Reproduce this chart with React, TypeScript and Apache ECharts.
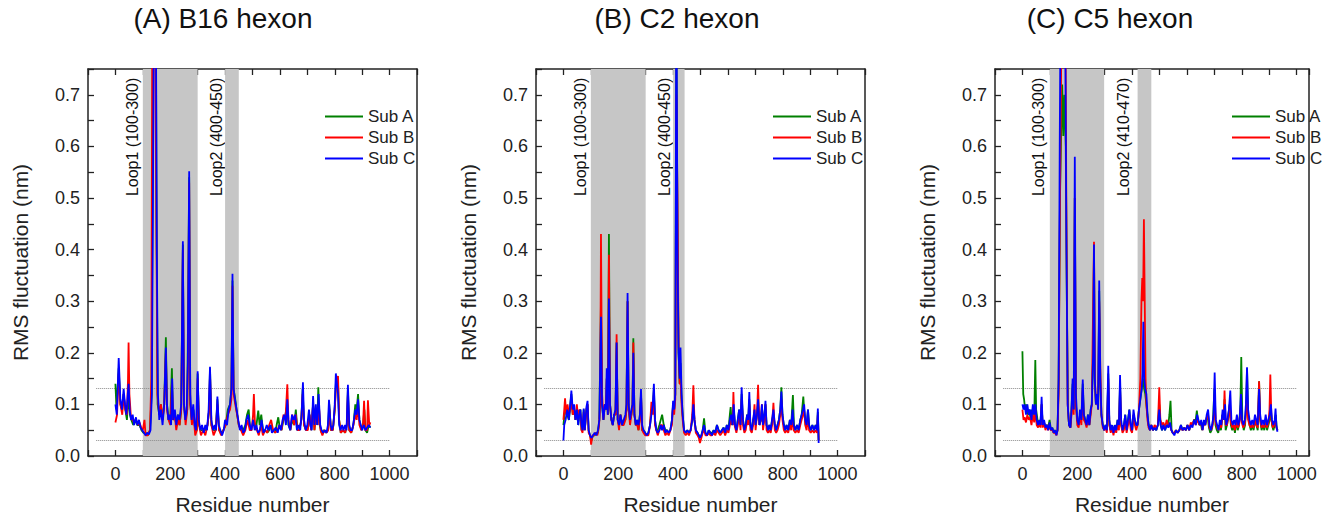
import React, { useEffect, useRef } from "react";
import * as echarts from "echarts";

type P = [number, number];

const subNames = ["Sub A", "Sub B", "Sub C"];
const subColors = ["#008000", "#ff0000", "#0000ff"];
const titles = ["(A) B16 hexon", "(B) C2 hexon", "(C) C5 hexon"];
const loopLabels = [
  ["Loop1 (100-300)", "Loop2 (400-450)"],
  ["Loop1 (100-300)", "Loop2 (400-450)"],
  ["Loop1 (100-300)", "Loop2 (410-470)"],
];
const loopShades: P[][] = [
  [[100, 300], [400, 450]],
  [[100, 300], [400, 442]],
  [[100, 298], [420, 470]],
];
const loopLabelX = [[61, 370], [64, 370], [60, 367]];
const xMaxes = [1100, 1100, 1045];
const xTicks = [0, 200, 400, 600, 800, 1000];
const yTicks = [0, 0.1, 0.2, 0.3, 0.4, 0.5, 0.6, 0.7];
const refLines = [0.132, 0.031];

const b16A: P[] = [[0,0.14],[4,0.09],[12,0.17],[18,0.1],[25,0.09],[30,0.12],[36,0.09],[42,0.07],[48,0.12],[53,0.08],[58,0.07],[65,0.06],[72,0.07],[80,0.06],[88,0.06],[95,0.05],[102,0.045],[110,0.045],[118,0.04],[126,0.05],[132,0.12],[137,0.7],[141,0.95],[147,0.95],[150,0.45],[154,0.1],[160,0.08],[166,0.1],[172,0.07],[178,0.1],[184,0.23],[188,0.1],[194,0.07],[200,0.07],[206,0.17],[210,0.07],[216,0.08],[222,0.06],[228,0.08],[234,0.06],[240,0.09],[246,0.41],[250,0.1],[256,0.07],[262,0.09],[269,0.54],[273,0.1],[279,0.07],[285,0.09],[291,0.05],[297,0.05],[300,0.16],[305,0.06],[312,0.05],[320,0.05],[328,0.05],[336,0.06],[342,0.09],[345,0.17],[350,0.06],[358,0.05],[366,0.05],[372,0.11],[378,0.05],[386,0.045],[394,0.05],[402,0.06],[410,0.09],[418,0.1],[423,0.13],[427,0.34],[431,0.13],[437,0.11],[444,0.08],[450,0.06],[458,0.05],[466,0.05],[474,0.06],[480,0.08],[486,0.09],[492,0.05],[500,0.06],[506,0.07],[512,0.05],[521,0.088],[526,0.06],[532,0.08],[538,0.05],[546,0.05],[554,0.045],[561,0.05],[568,0.06],[575,0.05],[583,0.045],[588,0.06],[594,0.075],[598,0.06],[606,0.05],[613,0.07],[620,0.08],[627,0.1],[631,0.06],[638,0.05],[645,0.07],[652,0.06],[658,0.09],[664,0.05],[671,0.05],[678,0.07],[683,0.13],[688,0.06],[695,0.05],[702,0.06],[708,0.08],[714,0.05],[721,0.1],[726,0.05],[732,0.09],[736,0.06],[740,0.133],[745,0.06],[752,0.045],[760,0.05],[768,0.045],[775,0.05],[780,0.1],[786,0.05],[793,0.05],[800,0.09],[805,0.15],[812,0.14],[816,0.07],[822,0.045],[830,0.05],[838,0.045],[844,0.06],[848,0.13],[853,0.05],[860,0.045],[868,0.06],[875,0.1],[880,0.09],[885,0.12],[890,0.07],[897,0.05],[903,0.06],[908,0.09],[912,0.05],[918,0.045],[924,0.06],[930,0.055]];
const b16B: P[] = [[0,0.065],[6,0.08],[12,0.16],[18,0.1],[25,0.08],[30,0.12],[36,0.09],[42,0.08],[46,0.15],[48,0.22],[51,0.12],[56,0.08],[62,0.07],[68,0.065],[75,0.07],[82,0.06],[88,0.065],[94,0.055],[100,0.05],[106,0.07],[110,0.04],[118,0.04],[126,0.05],[131,0.15],[135,0.95],[143,0.95],[149,0.5],[153,0.12],[160,0.08],[166,0.1],[172,0.07],[178,0.1],[184,0.2],[188,0.09],[194,0.07],[200,0.06],[206,0.14],[210,0.07],[216,0.08],[222,0.05],[228,0.07],[234,0.06],[240,0.09],[246,0.4],[250,0.1],[256,0.06],[262,0.09],[265,0.2],[269,0.53],[273,0.1],[279,0.06],[285,0.08],[291,0.04],[297,0.05],[300,0.15],[305,0.06],[312,0.04],[320,0.05],[328,0.04],[336,0.06],[342,0.09],[345,0.16],[350,0.06],[358,0.04],[366,0.05],[372,0.1],[378,0.05],[386,0.04],[394,0.05],[402,0.06],[410,0.08],[418,0.09],[423,0.11],[427,0.33],[431,0.12],[437,0.1],[444,0.08],[450,0.06],[458,0.05],[466,0.04],[474,0.05],[482,0.07],[490,0.05],[497,0.05],[502,0.08],[505,0.12],[509,0.06],[516,0.05],[523,0.04],[531,0.06],[538,0.04],[546,0.05],[554,0.045],[561,0.06],[568,0.07],[575,0.05],[583,0.045],[591,0.05],[598,0.06],[606,0.05],[613,0.08],[620,0.07],[627,0.139],[631,0.07],[638,0.05],[645,0.08],[652,0.06],[658,0.08],[664,0.05],[671,0.05],[678,0.07],[683,0.12],[688,0.06],[695,0.05],[702,0.05],[708,0.08],[714,0.05],[721,0.1],[726,0.05],[732,0.09],[738,0.06],[742,0.1],[748,0.05],[755,0.04],[762,0.05],[770,0.045],[776,0.05],[781,0.09],[786,0.05],[793,0.05],[800,0.09],[805,0.14],[812,0.155],[816,0.07],[822,0.045],[830,0.05],[838,0.045],[844,0.06],[848,0.12],[853,0.05],[860,0.045],[868,0.06],[875,0.08],[880,0.07],[885,0.1],[890,0.06],[897,0.05],[903,0.06],[907,0.107],[911,0.05],[918,0.05],[921,0.108],[926,0.06],[930,0.065]];
const b16C: P[] = [[0,0.1],[5,0.08],[12,0.19],[18,0.11],[24,0.09],[30,0.13],[35,0.1],[40,0.08],[45,0.12],[48,0.14],[52,0.09],[57,0.07],[63,0.08],[68,0.06],[75,0.075],[80,0.06],[86,0.07],[92,0.055],[98,0.05],[104,0.045],[110,0.04],[116,0.045],[122,0.042],[128,0.05],[133,0.12],[137,0.5],[141,0.95],[147,0.95],[151,0.4],[155,0.12],[160,0.07],[166,0.09],[172,0.06],[178,0.1],[184,0.21],[188,0.1],[193,0.07],[198,0.08],[203,0.06],[207,0.15],[211,0.07],[217,0.09],[222,0.06],[228,0.08],[234,0.07],[240,0.1],[246,0.416],[250,0.1],[255,0.07],[260,0.09],[264,0.18],[269,0.552],[273,0.12],[278,0.07],[284,0.1],[289,0.06],[294,0.05],[300,0.164],[304,0.07],[310,0.05],[316,0.06],[322,0.045],[328,0.06],[334,0.05],[340,0.09],[345,0.173],[350,0.07],[356,0.05],[362,0.06],[367,0.05],[372,0.115],[377,0.06],[383,0.05],[389,0.04],[395,0.05],[400,0.07],[407,0.06],[413,0.09],[418,0.1],[423,0.13],[427,0.353],[431,0.13],[436,0.11],[442,0.09],[448,0.07],[454,0.05],[460,0.06],[466,0.045],[472,0.05],[478,0.07],[484,0.08],[490,0.06],[496,0.05],[502,0.07],[508,0.05],[514,0.06],[520,0.045],[527,0.05],[533,0.07],[540,0.045],[546,0.05],[552,0.06],[558,0.05],[565,0.06],[571,0.045],[578,0.05],[585,0.055],[592,0.045],[598,0.06],[604,0.05],[610,0.07],[616,0.08],[622,0.06],[627,0.11],[632,0.06],[638,0.05],[644,0.08],[650,0.07],[656,0.08],[662,0.05],[668,0.06],[674,0.05],[679,0.08],[684,0.143],[688,0.07],[694,0.05],[700,0.06],[706,0.09],[711,0.06],[716,0.05],[721,0.116],[726,0.06],[731,0.1],[736,0.06],[741,0.12],[747,0.06],[752,0.05],[758,0.045],[764,0.05],[770,0.045],[775,0.06],[779,0.109],[785,0.06],[790,0.05],[795,0.06],[800,0.1],[804,0.16],[808,0.14],[812,0.12],[816,0.06],[821,0.05],[827,0.06],[832,0.05],[838,0.06],[843,0.05],[848,0.138],[853,0.06],[858,0.05],[864,0.05],[870,0.07],[875,0.09],[880,0.08],[885,0.11],[890,0.07],[895,0.06],[900,0.05],[906,0.06],[912,0.05],[918,0.055],[924,0.06],[930,0.055]];

const c2A: P[] = [[0,0.06],[4,0.08],[8,0.09],[14,0.08],[20,0.07],[25,0.1],[29,0.12],[34,0.08],[39,0.09],[44,0.07],[49,0.09],[54,0.06],[58,0.08],[62,0.09],[66,0.05],[70,0.05],[74,0.09],[78,0.05],[84,0.09],[88,0.1],[92,0.05],[97,0.04],[102,0.03],[108,0.04],[114,0.04],[120,0.045],[126,0.045],[131,0.07],[137,0.3],[141,0.1],[146,0.07],[151,0.1],[155,0.09],[158,0.15],[162,0.08],[166,0.43],[170,0.1],[175,0.07],[180,0.06],[185,0.08],[190,0.08],[194,0.22],[198,0.07],[203,0.06],[208,0.08],[214,0.06],[220,0.07],[226,0.07],[230,0.09],[234,0.3],[238,0.09],[243,0.07],[248,0.08],[252,0.1],[255,0.228],[259,0.08],[264,0.06],[269,0.07],[274,0.05],[279,0.08],[283,0.12],[287,0.05],[292,0.05],[298,0.045],[304,0.04],[310,0.045],[316,0.06],[321,0.09],[326,0.09],[330,0.13],[334,0.07],[339,0.05],[344,0.05],[350,0.06],[355,0.07],[360,0.08],[366,0.06],[372,0.05],[378,0.05],[384,0.045],[390,0.05],[396,0.07],[400,0.1],[404,0.09],[408,0.12],[412,0.8],[416,0.45],[420,0.2],[424,0.14],[427,0.18],[431,0.11],[435,0.08],[440,0.05],[446,0.045],[452,0.05],[458,0.045],[464,0.05],[470,0.07],[474,0.1],[478,0.07],[483,0.05],[489,0.045],[494,0.04],[498,0.035],[503,0.04],[508,0.05],[513,0.073],[518,0.045],[524,0.04],[530,0.05],[536,0.045],[542,0.045],[548,0.05],[554,0.045],[560,0.06],[566,0.05],[572,0.045],[578,0.05],[584,0.055],[590,0.045],[596,0.06],[602,0.05],[607,0.08],[610,0.095],[614,0.06],[621,0.09],[626,0.06],[631,0.05],[636,0.07],[641,0.09],[646,0.06],[650,0.12],[655,0.07],[660,0.05],[665,0.06],[670,0.08],[674,0.07],[678,0.11],[682,0.06],[687,0.05],[692,0.07],[697,0.08],[701,0.06],[706,0.08],[710,0.1],[715,0.06],[720,0.07],[724,0.09],[728,0.06],[733,0.08],[737,0.1],[741,0.06],[746,0.05],[751,0.06],[756,0.05],[761,0.07],[766,0.08],[771,0.06],[776,0.05],[781,0.06],[786,0.07],[791,0.09],[795,0.133],[799,0.08],[804,0.06],[809,0.05],[814,0.06],[820,0.05],[826,0.07],[831,0.06],[837,0.118],[841,0.06],[846,0.05],[852,0.06],[858,0.05],[864,0.07],[869,0.08],[875,0.115],[879,0.08],[884,0.06],[889,0.07],[892,0.09],[896,0.06],[902,0.05],[908,0.06],[914,0.05],[920,0.06],[925,0.05],[928,0.085],[931,0.03]];
const c2B: P[] = [[0,0.07],[3,0.09],[6,0.112],[10,0.08],[15,0.1],[20,0.08],[25,0.09],[29,0.11],[34,0.08],[39,0.09],[44,0.07],[49,0.1],[54,0.07],[58,0.09],[62,0.08],[66,0.05],[70,0.045],[74,0.085],[78,0.05],[84,0.09],[88,0.1],[92,0.045],[97,0.04],[101,0.022],[106,0.04],[112,0.04],[118,0.045],[124,0.04],[130,0.06],[134,0.1],[137,0.43],[141,0.12],[146,0.07],[151,0.1],[155,0.09],[158,0.15],[162,0.08],[166,0.39],[170,0.1],[175,0.07],[180,0.06],[185,0.08],[190,0.08],[194,0.236],[198,0.07],[203,0.05],[208,0.08],[214,0.06],[220,0.06],[226,0.07],[230,0.09],[234,0.3],[238,0.09],[243,0.06],[248,0.08],[252,0.1],[255,0.22],[259,0.08],[264,0.06],[269,0.06],[274,0.05],[279,0.07],[283,0.12],[287,0.05],[292,0.045],[298,0.04],[304,0.04],[310,0.04],[316,0.06],[321,0.105],[326,0.08],[330,0.12],[334,0.06],[339,0.05],[344,0.04],[350,0.05],[355,0.06],[360,0.06],[366,0.05],[372,0.04],[378,0.045],[384,0.04],[390,0.05],[396,0.06],[400,0.1],[404,0.08],[408,0.11],[412,0.7],[416,0.5],[420,0.22],[424,0.14],[428,0.14],[431,0.1],[435,0.07],[440,0.045],[446,0.04],[452,0.045],[458,0.04],[464,0.05],[470,0.08],[474,0.137],[478,0.07],[483,0.045],[489,0.04],[494,0.035],[498,0.025],[503,0.035],[508,0.045],[513,0.05],[518,0.04],[524,0.04],[530,0.045],[536,0.04],[542,0.04],[548,0.045],[554,0.04],[560,0.05],[566,0.045],[572,0.04],[578,0.045],[584,0.05],[590,0.04],[596,0.05],[602,0.045],[607,0.06],[612,0.07],[617,0.06],[620,0.124],[624,0.06],[631,0.045],[636,0.06],[641,0.08],[646,0.05],[650,0.11],[655,0.06],[660,0.045],[665,0.05],[670,0.07],[674,0.06],[678,0.1],[682,0.05],[687,0.045],[692,0.06],[697,0.1],[701,0.05],[706,0.08],[710,0.138],[715,0.06],[720,0.07],[724,0.1],[728,0.05],[733,0.07],[737,0.1],[741,0.05],[746,0.045],[751,0.05],[756,0.045],[761,0.06],[766,0.103],[771,0.05],[776,0.045],[781,0.05],[786,0.06],[791,0.08],[795,0.11],[799,0.07],[804,0.05],[809,0.045],[814,0.05],[820,0.045],[826,0.06],[831,0.05],[836,0.08],[840,0.05],[846,0.045],[852,0.05],[858,0.045],[864,0.06],[869,0.07],[874,0.08],[878,0.09],[882,0.06],[887,0.05],[892,0.08],[896,0.05],[902,0.045],[908,0.05],[914,0.045],[920,0.05],[925,0.045],[928,0.08],[931,0.03]];
const c2C: P[] = [[0,0.03],[3,0.06],[8,0.07],[14,0.09],[20,0.07],[25,0.1],[29,0.127],[34,0.09],[39,0.1],[44,0.07],[49,0.09],[54,0.06],[58,0.08],[62,0.09],[66,0.06],[70,0.05],[74,0.092],[78,0.05],[84,0.095],[88,0.107],[92,0.05],[97,0.04],[102,0.035],[108,0.04],[114,0.045],[120,0.04],[126,0.05],[131,0.07],[137,0.27],[141,0.1],[146,0.07],[151,0.1],[155,0.09],[158,0.17],[162,0.08],[166,0.305],[170,0.1],[175,0.07],[180,0.06],[185,0.08],[190,0.09],[194,0.22],[198,0.07],[203,0.06],[208,0.08],[214,0.06],[220,0.07],[226,0.08],[230,0.1],[234,0.316],[238,0.1],[243,0.07],[248,0.09],[252,0.1],[255,0.2],[259,0.08],[264,0.06],[269,0.07],[274,0.06],[279,0.08],[283,0.13],[287,0.06],[292,0.05],[298,0.045],[304,0.04],[310,0.045],[316,0.06],[321,0.08],[326,0.1],[330,0.14],[334,0.07],[339,0.05],[344,0.045],[350,0.05],[355,0.06],[360,0.05],[366,0.06],[372,0.045],[378,0.05],[384,0.045],[390,0.05],[396,0.07],[400,0.107],[404,0.09],[408,0.12],[412,0.95],[416,0.4],[420,0.2],[424,0.15],[427,0.21],[431,0.12],[435,0.08],[440,0.05],[446,0.045],[452,0.05],[458,0.045],[464,0.05],[470,0.07],[474,0.1],[478,0.07],[483,0.05],[489,0.045],[494,0.04],[498,0.035],[503,0.04],[508,0.05],[513,0.06],[518,0.045],[524,0.04],[530,0.05],[536,0.045],[542,0.04],[548,0.05],[554,0.045],[560,0.06],[566,0.05],[572,0.045],[578,0.05],[584,0.055],[590,0.045],[596,0.06],[602,0.05],[607,0.07],[612,0.08],[617,0.06],[621,0.1],[626,0.06],[631,0.05],[636,0.07],[641,0.09],[646,0.06],[650,0.133],[655,0.07],[660,0.05],[665,0.06],[670,0.08],[674,0.07],[678,0.124],[682,0.06],[687,0.05],[692,0.07],[697,0.09],[701,0.06],[706,0.08],[710,0.11],[715,0.06],[720,0.07],[724,0.1],[728,0.06],[733,0.08],[737,0.107],[741,0.06],[746,0.05],[751,0.06],[756,0.05],[761,0.07],[766,0.09],[771,0.06],[776,0.05],[781,0.06],[786,0.07],[791,0.09],[795,0.125],[799,0.08],[804,0.06],[809,0.05],[814,0.06],[820,0.05],[826,0.07],[831,0.06],[836,0.09],[840,0.06],[846,0.05],[852,0.06],[858,0.05],[864,0.07],[869,0.08],[874,0.09],[878,0.1],[882,0.07],[887,0.06],[892,0.09],[896,0.06],[902,0.05],[908,0.06],[914,0.05],[920,0.06],[925,0.05],[928,0.092],[931,0.025]];

const c5A: P[] = [[0,0.203],[3,0.12],[6,0.11],[10,0.09],[15,0.1],[20,0.08],[25,0.09],[30,0.07],[35,0.09],[40,0.08],[44,0.1],[47,0.186],[50,0.09],[55,0.07],[60,0.065],[65,0.06],[70,0.1],[74,0.06],[79,0.065],[84,0.055],[89,0.06],[94,0.055],[99,0.07],[104,0.05],[109,0.055],[114,0.045],[119,0.05],[124,0.045],[128,0.05],[132,0.14],[137,0.5],[141,0.62],[145,0.72],[149,0.62],[153,0.7],[158,0.6],[162,0.3],[166,0.09],[170,0.06],[175,0.055],[179,0.09],[183,0.14],[187,0.09],[191,0.5],[195,0.1],[200,0.07],[205,0.06],[210,0.08],[215,0.07],[220,0.14],[224,0.08],[229,0.07],[234,0.06],[239,0.08],[244,0.06],[249,0.09],[253,0.1],[258,0.2],[261,0.4],[264,0.14],[268,0.1],[272,0.12],[276,0.09],[280,0.32],[284,0.14],[288,0.08],[293,0.06],[298,0.05],[303,0.06],[308,0.05],[313,0.16],[317,0.06],[322,0.05],[327,0.06],[332,0.045],[337,0.06],[342,0.05],[347,0.07],[352,0.06],[356,0.14],[360,0.06],[365,0.05],[370,0.06],[375,0.08],[380,0.05],[385,0.07],[390,0.09],[395,0.06],[400,0.05],[405,0.08],[410,0.07],[415,0.06],[420,0.06],[425,0.09],[430,0.11],[435,0.13],[440,0.15],[444,0.13],[448,0.12],[452,0.1],[456,0.08],[460,0.06],[465,0.05],[470,0.06],[476,0.05],[482,0.055],[488,0.05],[494,0.06],[499,0.1],[504,0.06],[509,0.05],[514,0.06],[520,0.05],[526,0.06],[532,0.06],[536,0.08],[540,0.107],[544,0.05],[548,0.045],[554,0.045],[560,0.05],[566,0.045],[572,0.05],[578,0.06],[584,0.05],[590,0.055],[596,0.05],[602,0.06],[608,0.05],[614,0.06],[620,0.06],[626,0.07],[632,0.07],[636,0.088],[640,0.07],[645,0.06],[650,0.065],[655,0.05],[660,0.065],[665,0.06],[670,0.07],[675,0.08],[680,0.055],[685,0.045],[690,0.05],[695,0.07],[700,0.13],[704,0.06],[709,0.05],[714,0.045],[719,0.06],[724,0.05],[729,0.08],[733,0.07],[737,0.11],[741,0.05],[746,0.06],[751,0.08],[756,0.1],[760,0.06],[765,0.05],[770,0.06],[775,0.045],[780,0.07],[785,0.05],[790,0.06],[795,0.1],[798,0.192],[802,0.07],[807,0.05],[812,0.06],[816,0.1],[819,0.17],[823,0.08],[828,0.06],[833,0.05],[838,0.06],[843,0.05],[848,0.07],[853,0.06],[858,0.05],[863,0.145],[867,0.07],[872,0.05],[877,0.06],[882,0.05],[887,0.07],[892,0.05],[897,0.06],[902,0.07],[906,0.09],[910,0.06],[915,0.05],[920,0.06],[924,0.08],[927,0.055],[930,0.05]];
const c5B: P[] = [[0,0.09],[4,0.07],[8,0.075],[13,0.065],[18,0.08],[23,0.07],[28,0.075],[33,0.06],[38,0.08],[43,0.065],[47,0.09],[52,0.06],[57,0.055],[62,0.065],[66,0.055],[70,0.1],[74,0.055],[79,0.065],[84,0.05],[89,0.06],[94,0.05],[99,0.06],[104,0.05],[109,0.05],[114,0.045],[119,0.045],[124,0.04],[128,0.05],[132,0.12],[137,0.5],[142,0.8],[148,0.95],[156,0.95],[160,0.5],[165,0.1],[170,0.06],[175,0.055],[179,0.08],[183,0.13],[187,0.08],[191,0.5],[195,0.1],[200,0.06],[205,0.055],[210,0.08],[215,0.06],[220,0.13],[224,0.07],[229,0.065],[234,0.055],[239,0.07],[244,0.06],[249,0.08],[253,0.1],[258,0.3],[261,0.415],[264,0.15],[268,0.1],[272,0.12],[276,0.09],[280,0.3],[284,0.17],[288,0.08],[293,0.055],[298,0.05],[303,0.055],[308,0.045],[313,0.15],[317,0.06],[322,0.045],[327,0.055],[332,0.04],[337,0.055],[342,0.045],[347,0.06],[352,0.05],[356,0.13],[360,0.06],[365,0.045],[370,0.05],[375,0.07],[380,0.045],[385,0.06],[390,0.08],[395,0.05],[400,0.045],[405,0.08],[410,0.06],[415,0.05],[420,0.06],[425,0.09],[430,0.15],[434,0.3],[437,0.345],[440,0.3],[443,0.459],[446,0.3],[449,0.15],[452,0.1],[456,0.07],[460,0.055],[465,0.05],[470,0.06],[476,0.05],[482,0.06],[488,0.055],[494,0.06],[499,0.133],[503,0.07],[509,0.06],[514,0.065],[520,0.055],[526,0.07],[532,0.06],[538,0.06],[543,0.05],[548,0.045],[554,0.045],[560,0.05],[566,0.045],[572,0.05],[578,0.055],[584,0.05],[590,0.055],[596,0.05],[602,0.06],[608,0.05],[614,0.065],[620,0.06],[626,0.07],[632,0.06],[637,0.07],[642,0.065],[647,0.06],[652,0.065],[657,0.05],[662,0.065],[667,0.06],[672,0.075],[677,0.08],[682,0.055],[687,0.05],[692,0.055],[697,0.07],[701,0.12],[705,0.065],[710,0.055],[715,0.05],[720,0.06],[725,0.055],[730,0.08],[734,0.07],[737,0.127],[741,0.06],[746,0.06],[751,0.075],[756,0.1],[760,0.065],[765,0.055],[770,0.06],[775,0.05],[780,0.07],[785,0.055],[790,0.06],[795,0.09],[800,0.065],[805,0.055],[810,0.06],[815,0.08],[819,0.12],[823,0.07],[828,0.06],[833,0.055],[838,0.06],[843,0.055],[848,0.07],[853,0.06],[858,0.055],[863,0.145],[867,0.07],[872,0.055],[877,0.06],[882,0.055],[887,0.07],[892,0.055],[897,0.065],[901,0.09],[904,0.158],[908,0.07],[913,0.055],[918,0.06],[923,0.07],[926,0.055],[930,0.05]];
const c5C: P[] = [[0,0.1],[4,0.09],[8,0.1],[13,0.08],[18,0.1],[23,0.08],[28,0.09],[33,0.07],[38,0.1],[43,0.08],[47,0.1],[52,0.07],[57,0.06],[62,0.07],[66,0.06],[70,0.115],[74,0.06],[79,0.07],[84,0.055],[89,0.06],[94,0.05],[99,0.065],[104,0.05],[109,0.055],[114,0.045],[119,0.05],[124,0.04],[128,0.05],[132,0.15],[136,0.6],[140,0.95],[148,0.95],[155,0.95],[160,0.45],[165,0.1],[170,0.06],[175,0.055],[179,0.09],[183,0.15],[187,0.09],[191,0.58],[195,0.12],[200,0.07],[205,0.06],[210,0.09],[215,0.07],[220,0.148],[224,0.08],[229,0.07],[234,0.06],[239,0.08],[244,0.06],[249,0.09],[253,0.1],[258,0.2],[261,0.41],[264,0.15],[268,0.1],[272,0.12],[276,0.09],[280,0.34],[284,0.15],[288,0.08],[293,0.06],[298,0.05],[303,0.06],[308,0.05],[313,0.175],[317,0.07],[322,0.05],[327,0.06],[332,0.045],[337,0.06],[342,0.05],[347,0.07],[352,0.06],[356,0.157],[360,0.07],[365,0.05],[370,0.06],[375,0.08],[380,0.05],[385,0.07],[390,0.09],[395,0.06],[400,0.05],[405,0.09],[410,0.07],[415,0.06],[420,0.06],[425,0.09],[430,0.11],[435,0.13],[438,0.16],[441,0.26],[444,0.15],[448,0.13],[452,0.12],[456,0.08],[460,0.06],[465,0.05],[470,0.06],[476,0.05],[482,0.055],[488,0.05],[494,0.06],[499,0.09],[504,0.06],[509,0.05],[514,0.06],[520,0.05],[526,0.06],[532,0.055],[538,0.065],[543,0.05],[548,0.045],[554,0.04],[560,0.05],[566,0.045],[572,0.05],[578,0.06],[584,0.05],[590,0.055],[596,0.05],[602,0.06],[608,0.05],[614,0.06],[620,0.055],[626,0.07],[632,0.06],[637,0.08],[642,0.07],[647,0.06],[652,0.07],[657,0.05],[662,0.07],[667,0.06],[672,0.08],[677,0.09],[682,0.06],[687,0.05],[692,0.06],[697,0.08],[701,0.162],[705,0.07],[710,0.06],[715,0.05],[720,0.07],[725,0.06],[730,0.09],[735,0.07],[739,0.1],[743,0.06],[748,0.07],[753,0.09],[758,0.127],[762,0.07],[767,0.06],[772,0.07],[777,0.06],[782,0.08],[787,0.06],[792,0.07],[797,0.12],[801,0.07],[806,0.06],[811,0.07],[815,0.1],[819,0.172],[823,0.09],[828,0.07],[833,0.06],[838,0.07],[843,0.06],[848,0.08],[853,0.07],[858,0.06],[863,0.13],[867,0.08],[872,0.06],[877,0.07],[882,0.06],[887,0.08],[892,0.06],[897,0.07],[902,0.08],[906,0.1],[910,0.07],[915,0.06],[920,0.07],[923,0.092],[926,0.06],[930,0.047]];

const panelSeries: P[][][] = [
  [b16A, b16B, b16C],
  [c2A, c2B, c2C],
  [c5A, c5B, c5C],
];

const FONT = "'Liberation Sans', Arial, sans-serif";
const gridLefts = [88, 536, 995];
const gridWidths = [329, 329, 314];
const gridTop = 69;
const gridHeight = 390;
const titleCenters = [223, 677, 1110];
const legendLefts = [325, 773, 1232];

export default function App() {
  const ref = useRef<HTMLDivElement>(null);
  useEffect(() => {
    document.body.style.margin = "0";
    if (!ref.current) return;
    const chart = echarts.init(ref.current, undefined, { renderer: "svg" });

    const grids: any[] = [];
    const xAxes: any[] = [];
    const yAxes: any[] = [];
    const series: any[] = [];
    const legends: any[] = [];

    const xLabelFmt = (v: number) => (xTicks.indexOf(Math.round(v)) >= 0 ? String(Math.round(v)) : "");
    const yLabelFmt = (v: number) => {
      const r = Math.round(v * 100) / 100;
      return yTicks.some((t) => Math.abs(t - r) < 1e-6) ? r.toFixed(1) : "";
    };

    for (let i = 0; i < 3; i++) {
      grids.push({ left: gridLefts[i], top: gridTop, width: gridWidths[i], height: gridHeight, containLabel: false });
      const axisLine = { show: true, onZero: false, lineStyle: { color: "#222", width: 1.5 } };
      const tick = { show: true, inside: true, length: 6, lineStyle: { color: "#222", width: 1.3 } };
      xAxes.push({
        type: "value", gridIndex: i, position: "bottom", min: -100, max: xMaxes[i], interval: 100,
        axisLine, axisTick: tick,
        axisLabel: { formatter: xLabelFmt, fontSize: 18, color: "#222", fontFamily: FONT, margin: 9, showMinLabel: true, showMaxLabel: true },
        splitLine: { show: false },
        name: "Residue number", nameLocation: "middle", nameGap: 38,
        nameTextStyle: { fontSize: 21, color: "#222", fontFamily: FONT },
      });
      xAxes.push({
        type: "value", gridIndex: i, position: "top", min: -100, max: xMaxes[i], interval: 100,
        axisLine, axisTick: tick, axisLabel: { show: false }, splitLine: { show: false },
      });
      yAxes.push({
        type: "value", gridIndex: i, position: "left", min: 0, max: 0.75, interval: 0.05,
        axisLine, axisTick: tick,
        axisLabel: { formatter: yLabelFmt, fontSize: 18, color: "#222", fontFamily: FONT, margin: 8 },
        splitLine: { show: false },
        name: "RMS fluctuation (nm)", nameLocation: "middle", nameGap: 57,
        nameTextStyle: { fontSize: 21, color: "#222", fontFamily: FONT },
      });
      yAxes.push({
        type: "value", gridIndex: i, position: "right", min: 0, max: 0.75,
        axisLine, axisTick: { show: false }, axisLabel: { show: false }, splitLine: { show: false },
      });

      panelSeries[i].forEach((data, k) => {
        const s: any = {
          type: "line", name: subNames[k], data, xAxisIndex: i * 2, yAxisIndex: i * 2,
          showSymbol: false, symbol: "none", clip: true, z: 3 + k, silent: true,
          lineStyle: { color: subColors[k], width: 1.8 }, itemStyle: { color: subColors[k] },
        };
        if (k === 0) {
          s.markArea = {
            silent: true, z: 1,
            itemStyle: { color: "#c6c6c6", borderWidth: 0 },
            data: loopShades[i].map((r) => [{ xAxis: r[0] }, { xAxis: r[1] }]),
          };
          s.markLine = {
            silent: true, z: 1, symbol: ["none", "none"], label: { show: false },
            lineStyle: { color: "#8a8a8a", type: "dotted", width: 1 },
            data: refLines.map((v) => [{ coord: [-70, v] }, { coord: [1000, v] }]),
          };
        }
        series.push(s);
      });

      legends.push({
        data: subNames, left: legendLefts[i], top: 106, orient: "vertical", padding: 0,
        icon: "rect", itemWidth: 38, itemHeight: 2, itemGap: 0, selectedMode: false,
        textStyle: { fontSize: 17, color: "#222", fontFamily: FONT, lineHeight: 21 },
      });
    }

    chart.setOption({
      animation: false,
      backgroundColor: "#ffffff",
      grid: grids, xAxis: xAxes, yAxis: yAxes, series, legend: legends,
    });

    const graphics: any[] = [];
    for (let i = 0; i < 3; i++) {
      graphics.push({
        type: "text", x: titleCenters[i], y: 18,
        style: { text: titles[i], fontSize: 28, fill: "#111", fontFamily: FONT, align: "center", verticalAlign: "middle" },
      });
      loopLabels[i].forEach((lab, j) => {
        const p = chart.convertToPixel({ gridIndex: i } as any, [loopLabelX[i][j], 0.733]) as number[];
        graphics.push({
          type: "text", x: p[0], y: p[1], rotation: Math.PI / 2,
          style: { text: lab, fontSize: 16, fill: "#111", fontFamily: FONT, align: "right", verticalAlign: "middle" },
        });
      });
    }
    chart.setOption({ graphic: graphics });

    return () => chart.dispose();
  }, []);
  return <div ref={ref} style={{ width: 1326, height: 520 }} />;
}
